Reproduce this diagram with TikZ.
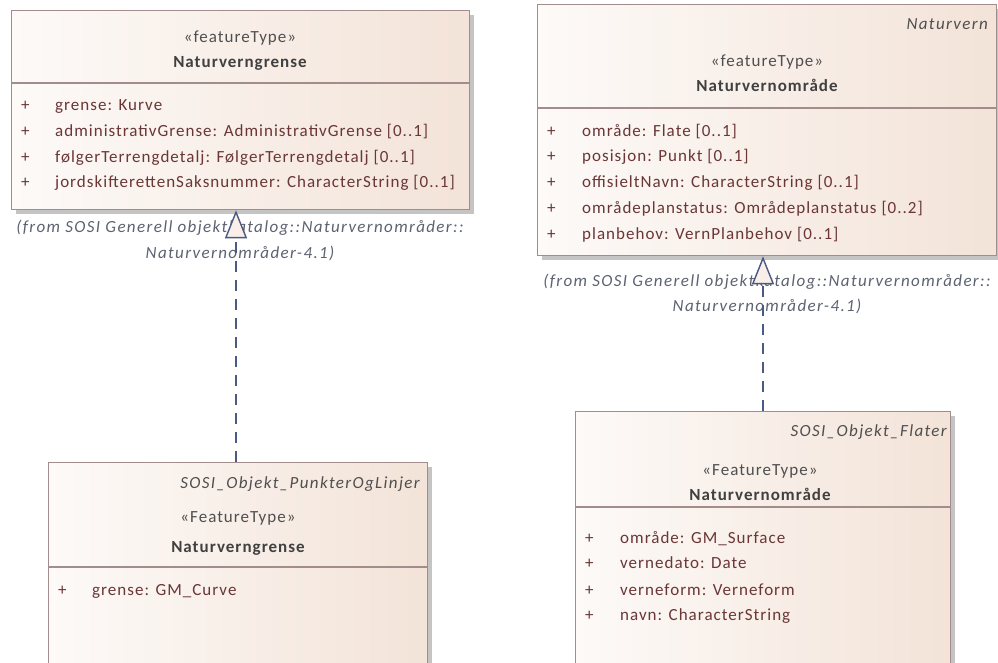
\documentclass[tikz,border=0pt]{standalone}
\usepackage{fontspec}
\setmainfont{Carlito}
\newfontfamily\diafont[LetterSpace=6]{Carlito}
\newfontfamily\diaitfont[LetterSpace=8]{Carlito}
\usetikzlibrary{arrows.meta,shadows}

\definecolor{boxedge}{HTML}{A28C8C}
\definecolor{boxlight}{HTML}{FDFAF8}
\definecolor{boxdark}{HTML}{F3E3D8}
\definecolor{tipfill}{HTML}{F9EEE8}
\definecolor{attrtext}{HTML}{6A3636}
\definecolor{stereotext}{HTML}{4F4F4F}
\definecolor{nametext}{HTML}{404040}
\definecolor{fromtext}{HTML}{5C6270}
\definecolor{linkcol}{HTML}{4A5A84}
\definecolor{shadowcol}{HTML}{C4C4C4}

\tikzset{
  umlbox/.style={draw=boxedge, line width=1.3pt, anchor=north west, inner sep=0pt,
    left color=boxlight, right color=boxdark, shading angle=90,
    drop shadow={shadow xshift=4pt, shadow yshift=-4pt, fill=shadowcol, opacity=1}},
  sepline/.style={draw=boxedge, line width=1.3pt},
  stereo/.style={anchor=base, text=stereotext, font=\diafont\fontsize{17}{19}\selectfont, inner sep=0pt},
  cname/.style={anchor=base, text=nametext, font=\diafont\fontsize{17}{19}\selectfont\bfseries, inner sep=0pt},
  pkg/.style={anchor=base east, text=stereotext, font=\diaitfont\fontsize{17}{19}\selectfont\itshape, inner sep=0pt},
  plus/.style={anchor=base west, text=attrtext, font=\diafont\fontsize{17}{19}\selectfont, inner sep=0pt},
  attr/.style={anchor=base west, text=attrtext, font=\diafont\fontsize{17}{19}\selectfont, inner sep=0pt},
  fromlbl/.style={anchor=base, text=fromtext, font=\diaitfont\fontsize{17}{19}\selectfont\itshape, inner sep=0pt},
  realize/.style={draw=linkcol, line width=1.4pt, dash pattern=on 11pt off 8pt,
    -{Triangle[length=28pt, width=22pt, fill=tipfill, line width=1.4pt]}},
}

\begin{document}
\begin{tikzpicture}[x=1pt, y=-1pt]
\useasboundingbox (0,0) rectangle (998,663);

% ---- Naturverngrense (Naturvernområder-4.1) ----
\node[umlbox, minimum width=458pt, minimum height=199pt] (ngA) at (11,10) {};
\draw[sepline] (11,83) -- (469,83);
\node[stereo] (ngAst) at (240,43) {«featureType»};
\node[cname] (ngAnm) at (240,68) {Naturverngrense};
\node[plus] (ngAp1) at (21,111) {+};
\node[attr] (ngAa1) at (55,111) {grense: Kurve};
\node[plus] (ngAp2) at (21,137) {+};
\node[attr] (ngAa2) at (55,137) {administrativGrense: AdministrativGrense [0..1]};
\node[plus] (ngAp3) at (21,163) {+};
\node[attr] (ngAa3) at (55,163) {følgerTerrengdetalj: FølgerTerrengdetalj [0..1]};
\node[plus] (ngAp4) at (21,188) {+};
\node[attr] (ngAa4) at (55,188) {jordskifterettenSaksnummer: CharacterString [0..1]};
\node[fromlbl] (ngAf1) at (240,233) {(from SOSI Generell objektkatalog::Naturvernområder::};
\node[fromlbl] (ngAf2) at (240,258) {Naturvernområder-4.1)};

% ---- Naturvernområde (Naturvernområder-4.1) ----
\node[umlbox, minimum width=459pt, minimum height=251pt] (noB) at (537,4) {};
\draw[sepline] (537,108) -- (996,108);
\node[pkg] (noBpk) at (988,30) {Naturvern};
\node[stereo] (noBst) at (767,67) {«featureType»};
\node[cname] (noBnm) at (767,92) {Naturvernområde};
\node[plus] (noBp1) at (547,137) {+};
\node[attr] (noBa1) at (582,137) {område: Flate [0..1]};
\node[plus] (noBp2) at (547,162) {+};
\node[attr] (noBa2) at (582,162) {posisjon: Punkt [0..1]};
\node[plus] (noBp3) at (547,188) {+};
\node[attr] (noBa3) at (582,188) {offisieltNavn: CharacterString [0..1]};
\node[plus] (noBp4) at (547,213) {+};
\node[attr] (noBa4) at (582,213) {områdeplanstatus: Områdeplanstatus [0..2]};
\node[plus] (noBp5) at (547,239) {+};
\node[attr] (noBa5) at (582,239) {planbehov: VernPlanbehov [0..1]};
\node[fromlbl] (noBf1) at (767,286) {(from SOSI Generell objektkatalog::Naturvernområder::};
\node[fromlbl] (noBf2) at (767,311) {Naturvernområder-4.1)};

% ---- Naturverngrense (SOSI_Objekt_PunkterOgLinjer) ----
\node[umlbox, minimum width=379pt, minimum height=201pt] (ngC) at (48,462) {};
\draw[sepline] (48,567) -- (427,567);
\node[pkg] (ngCpk) at (420,488) {SOSI\_Objekt\_PunkterOgLinjer};
\node[stereo] (ngCst) at (238,522) {«FeatureType»};
\node[cname] (ngCnm) at (238,552) {Naturverngrense};
\node[plus] (ngCp1) at (58,595) {+};
\node[attr] (ngCa1) at (92,595) {grense: GM\_Curve};

% ---- Naturvernområde (SOSI_Objekt_Flater) ----
\node[umlbox, minimum width=375pt, minimum height=252pt] (noD) at (575,411) {};
\draw[sepline] (575,507) -- (950,507);
\node[pkg] (noDpk) at (947,436) {SOSI\_Objekt\_Flater};
\node[stereo] (noDst) at (760,475) {«FeatureType»};
\node[cname] (noDnm) at (760,500) {Naturvernområde};
\node[plus] (noDp1) at (585,543) {+};
\node[attr] (noDa1) at (620,543) {område: GM\_Surface};
\node[plus] (noDp2) at (585,568) {+};
\node[attr] (noDa2) at (620,568) {vernedato: Date};
\node[plus] (noDp3) at (585,595) {+};
\node[attr] (noDa3) at (620,595) {verneform: Verneform};
\node[plus] (noDp4) at (585,620) {+};
\node[attr] (noDa4) at (620,620) {navn: CharacterString};

% ---- realizations ----
\draw[realize] (ngC.north -| 236,0) -- (ngA.south -| 236,0);
\draw[realize] (noD.north -| 763,0) -- (noB.south -| 763,0);

\end{tikzpicture}
\end{document}
